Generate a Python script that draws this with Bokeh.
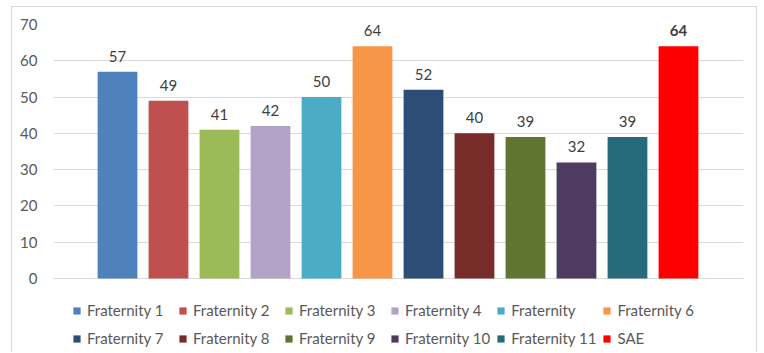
from bokeh.plotting import figure
from bokeh.models import ColumnDataSource, Legend, LegendItem, Range1d, FixedTicker
from bokeh.core.properties import value
from bokeh.embed import file_html
from bokeh.resources import INLINE

categories = ["Fraternity 1", "Fraternity 2", "Fraternity 3", "Fraternity 4", "Fraternity",
              "Fraternity 6", "Fraternity 7", "Fraternity 8", "Fraternity 9", "Fraternity 10",
              "Fraternity 11", "SAE"]
values = [57, 49, 41, 42, 50, 64, 52, 40, 39, 32, 39, 64]
colors = ["#4F81BD", "#C0504D", "#9BBB59", "#B3A2C7", "#4BACC6", "#F79646",
          "#2C4D75", "#772C2A", "#5F7530", "#4D3B62", "#276A7C", "#FF0000"]
label_styles = ["normal"] * 11 + ["bold"]
y_ticks = [0, 10, 20, 30, 40, 50, 60, 70]

FONT = "Lato"

src = ColumnDataSource(dict(
    x=list(range(len(categories))),
    top=values,
    color=colors,
    label=[str(v) for v in values],
    style=label_styles,
    name=categories,
))

# frame spans down to the bottom of the canvas so the legend can sit inside it
p = figure(width=746, height=346, output_backend="svg", toolbar_location=None,
           x_range=Range1d(-1.255, 12.275), y_range=Range1d(-20.67, 70),
           min_border_left=41, min_border_right=15, min_border_top=17, min_border_bottom=0,
           styles={"margin-left": "11px", "margin-top": "6px",
                   "border-left": "1px solid #D9D9D9", "border-top": "1px solid #D9D9D9",
                   "border-right": "1px solid #D9D9D9"})
p.outline_line_color = None
p.background_fill_color = "white"
p.border_fill_color = "white"

r = p.vbar(x="x", top="top", width=0.78, bottom=0, source=src,
           fill_color="color", line_color=None)

p.text(x="x", y="top", text="label", source=src, text_align="center",
       text_baseline="bottom", y_offset=-10, text_font=value(FONT),
       text_font_size="15px", text_color="#404040", text_font_style="style")

p.xaxis.visible = False
p.xgrid.visible = False
p.yaxis.ticker = FixedTicker(ticks=y_ticks)
p.yaxis.axis_line_color = None
p.yaxis.major_tick_line_color = None
p.yaxis.minor_tick_line_color = None
p.yaxis.major_label_text_font = FONT
p.yaxis.major_label_text_font_size = "15px"
p.yaxis.major_label_text_color = "#595959"
p.yaxis.major_label_standoff = 10
p.ygrid.grid_line_color = "#D9D9D9"
p.ygrid.grid_line_width = 1

items = [LegendItem(label=c, renderers=[r], index=i) for i, c in enumerate(categories)]
legend = Legend(items=items, orientation="horizontal", nrows=2,
                label_text_font=FONT, label_text_font_size="15px", label_text_color="#595959",
                glyph_width=9, glyph_height=9, label_standoff=6, spacing=6,
                label_width=85, label_height=22, padding=0, border_line_color=None,
                background_fill_alpha=0, location=(19, 4), margin=0)
p.add_layout(legend, "center")

open("out.html", "w").write(file_html(p, INLINE))
